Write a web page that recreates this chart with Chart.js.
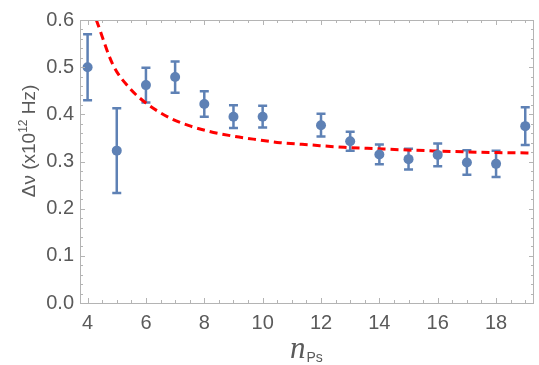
<!DOCTYPE html>
<html>
<head>
<meta charset="utf-8">
<script src="https://cdn.jsdelivr.net/npm/chart.js@4.4.1/dist/chart.umd.min.js"></script>
<style>
  html, body { margin: 0; padding: 0; background: #fff; }
  #wrap { width: 539px; height: 365px; }
</style>
</head>
<body>
<div id="wrap"><canvas id="chart" width="539" height="365"></canvas></div>
<script>
// measured points
const nValues = [4, 5, 6, 7, 8, 9, 10, 12, 13, 14, 15, 16, 17, 18, 19];
const dvValues = [0.500, 0.323, 0.462, 0.479, 0.422, 0.395, 0.395, 0.377, 0.343, 0.315, 0.305, 0.314, 0.298, 0.295, 0.375];
const dvErrors = [0.070, 0.090, 0.037, 0.033, 0.027, 0.024, 0.023, 0.024, 0.020, 0.021, 0.022, 0.024, 0.026, 0.028, 0.040];

// fitted curve
const fitN = [4.30, 4.87, 5.45, 6.00, 6.80, 7.48, 8.16, 9.06, 9.85, 10.6, 11.66, 12.79, 13.93, 14.7, 15.74, 16.87, 18.0, 19.3];
const fitV = [0.600, 0.505, 0.455, 0.424, 0.393, 0.376, 0.364, 0.353, 0.346, 0.340, 0.335, 0.330, 0.327, 0.325, 0.3227, 0.3205, 0.319, 0.318];

// axes
const xTicks = [4, 6, 8, 10, 12, 14, 16, 18];
const yTicks = [0, 0.1, 0.2, 0.3, 0.4, 0.5, 0.6];
const xMinorStep = 0.5;
const yMinorStep = 0.02;

const yTitle = ['Δν (x10', '12', ' Hz)'];
const xTitle = ['n', 'Ps'];

const blue = 'rgb(94,129,181)';
const gray = '#5a5a5a';
const frameColor = '#b4b4b4';
const sans = '"Liberation Sans", Arial, sans-serif';

const errorBars = {
  id: 'errorBars',
  beforeDatasetsDraw(chart) {
    const { ctx, scales: { x, y } } = chart;
    ctx.save();
    ctx.strokeStyle = blue;
    ctx.lineWidth = 2.5;
    nValues.forEach((n, i) => {
      const px = x.getPixelForValue(n);
      const top = y.getPixelForValue(dvValues[i] + dvErrors[i]);
      const bot = y.getPixelForValue(dvValues[i] - dvErrors[i]);
      ctx.beginPath();
      ctx.moveTo(px, top);
      ctx.lineTo(px, bot);
      ctx.moveTo(px - 4.5, top);
      ctx.lineTo(px + 4.5, top);
      ctx.moveTo(px - 4.5, bot);
      ctx.lineTo(px + 4.5, bot);
      ctx.stroke();
    });
    ctx.restore();
  }
};

// frame with inward ticks on all four sides, like the original
const frame = {
  id: 'frame',
  afterDraw(chart) {
    const { ctx, chartArea: a, scales: { x, y } } = chart;
    ctx.save();
    ctx.strokeStyle = frameColor;
    ctx.lineWidth = 1;
    ctx.strokeRect(a.left + 0.5, a.top + 0.5, a.right - a.left - 1, a.bottom - a.top);

    ctx.beginPath();
    const xStart = Math.ceil(x.min / xMinorStep) * xMinorStep;
    for (let v = xStart; v <= x.max + 1e-9; v += xMinorStep) {
      const major = xTicks.some(t => Math.abs(t - v) < 1e-6);
      const len = major ? 5 : 3;
      const px = Math.round(x.getPixelForValue(v)) + 0.5;
      ctx.moveTo(px, a.bottom); ctx.lineTo(px, a.bottom - len);
      ctx.moveTo(px, a.top); ctx.lineTo(px, a.top + len);
    }
    for (let v = 0; v <= y.max + 1e-9; v += yMinorStep) {
      const major = yTicks.some(t => Math.abs(t - v) < 1e-6);
      const len = major ? 5 : 3;
      const py = Math.round(y.getPixelForValue(v)) + 0.5;
      ctx.moveTo(a.left, py); ctx.lineTo(a.left + len, py);
      ctx.moveTo(a.right, py); ctx.lineTo(a.right - len, py);
    }
    ctx.stroke();

    // y title with superscript
    ctx.fillStyle = gray;
    ctx.textBaseline = 'alphabetic';
    ctx.textAlign = 'left';
    const mainFont = '19px ' + sans;
    const supFont = '12px ' + sans;
    ctx.font = mainFont;
    const w1 = ctx.measureText(yTitle[0]).width;
    const w3 = ctx.measureText(yTitle[2]).width;
    ctx.font = supFont;
    const w2 = ctx.measureText(yTitle[1]).width;
    const total = w1 + w2 + w3;
    ctx.translate(35, 141);
    ctx.rotate(-Math.PI / 2);
    let cx = -total / 2;
    ctx.font = mainFont;
    ctx.fillText(yTitle[0], cx, 0);
    cx += w1;
    ctx.font = supFont;
    ctx.fillText(yTitle[1], cx, -8);
    cx += w2;
    ctx.font = mainFont;
    ctx.fillText(yTitle[2], cx, 0);
    ctx.setTransform(1, 0, 0, 1, 0, 0);

    // x title with subscript
    ctx.font = 'italic 31px "Liberation Serif", "Times New Roman", serif';
    ctx.fillText(xTitle[0], 290, 358);
    const nw = ctx.measureText(xTitle[0]).width;
    ctx.font = '14px ' + sans;
    ctx.fillText(xTitle[1], 290 + nw + 1, 362);
    ctx.restore();
  }
};

new Chart(document.getElementById('chart'), {
  type: 'scatter',
  data: {
    datasets: [
      {
        label: 'fit',
        type: 'line',
        data: fitN.map((n, i) => ({ x: n, y: fitV[i] })),
        borderColor: '#ff0000',
        borderWidth: 3,
        borderDash: [8, 5],
        pointRadius: 0,
        fill: false,
        cubicInterpolationMode: 'monotone',
        order: 2
      },
      {
        label: 'data',
        data: nValues.map((n, i) => ({ x: n, y: dvValues[i] })),
        backgroundColor: blue,
        borderColor: blue,
        pointRadius: 5,
        borderWidth: 0,
        order: 1
      }
    ]
  },
  options: {
    responsive: false,
    animation: false,
    devicePixelRatio: 1,
    layout: { padding: { left: 0, right: 0, top: 20, bottom: 0 } },
    plugins: { legend: { display: false }, tooltip: { enabled: false } },
    scales: {
      x: {
        type: 'linear',
        min: 3.74,
        max: 19.3,
        afterBuildTicks: s => { s.ticks = xTicks.map(v => ({ value: v })); },
        afterFit: s => { s.height = 62; },
        grid: { display: false, drawTicks: false },
        border: { display: false },
        ticks: { color: gray, font: { family: sans, size: 20 }, padding: 8, maxRotation: 0 }
      },
      y: {
        type: 'linear',
        min: 0,
        max: 0.6,
        afterBuildTicks: s => { s.ticks = yTicks.map(v => ({ value: v })); },
        afterFit: s => { s.width = 80; },
        grid: { display: false, drawTicks: false },
        border: { display: false },
        ticks: { color: gray, font: { family: sans, size: 20 }, padding: 6, callback: v => v.toFixed(1) }
      }
    }
  },
  plugins: [errorBars, frame]
});
</script>
</body>
</html>
